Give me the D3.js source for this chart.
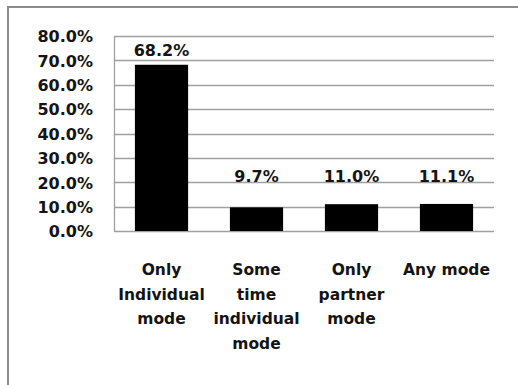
<!DOCTYPE html>
<html>
<head>
<meta charset="utf-8">
<script src="https://cdnjs.cloudflare.com/ajax/libs/d3/7.8.5/d3.min.js"></script>
<style>
  html, body { margin: 0; padding: 0; background: #fff; }
  svg { display: block; }
  text { font-family: "DejaVu Sans", Verdana, sans-serif; font-weight: bold; fill: #141414; }
</style>
</head>
<body>
<svg id="chart" width="518" height="385"></svg>
<script>
// Share of respondents by mode of work
const categories = [
  ["Only", "Individual", "mode"],
  ["Some", "time", "individual", "mode"],
  ["Only", "partner", "mode"],
  ["Any mode"]
];
const values = [68.2, 9.7, 11.0, 11.1];
const yTicks = [0, 10, 20, 30, 40, 50, 60, 70, 80];

const svg = d3.select("#chart");
const W = 518, H = 385;
const plot = { left: 114, right: 494, top: 36, bottom: 231 };

// outer frame
svg.append("rect")
  .attr("x", 8).attr("y", 7)
  .attr("width", W).attr("height", H)
  .attr("fill", "none")
  .attr("stroke", "#8c8c8c")
  .attr("stroke-width", 2);

const x = d3.scaleBand()
  .domain(d3.range(values.length))
  .range([plot.left, plot.right])
  .paddingInner(0.44)
  .paddingOuter(0.22);

const y = d3.scaleLinear().domain([0, 80]).range([plot.bottom, plot.top]);

// horizontal gridlines
svg.append("g")
  .selectAll("line")
  .data(yTicks)
  .join("line")
  .attr("x1", plot.left).attr("x2", plot.right)
  .attr("y1", d => Math.round(y(d)) + 0.5)
  .attr("y2", d => Math.round(y(d)) + 0.5)
  .attr("stroke", "#a0a0a0")
  .attr("stroke-width", 1.3);

// value axis line
svg.append("line")
  .attr("x1", plot.left + 0.5).attr("x2", plot.left + 0.5)
  .attr("y1", plot.top).attr("y2", plot.bottom + 1)
  .attr("stroke", "#a0a0a0")
  .attr("stroke-width", 1.3);

// tick labels
const yAxis = d3.axisLeft(y)
  .tickValues(yTicks)
  .tickFormat(d => d.toFixed(1) + "%")
  .tickSize(0)
  .tickPadding(0);
const ya = svg.append("g")
  .attr("transform", `translate(${plot.left - 21},0)`)
  .call(yAxis);
ya.select(".domain").remove();
ya.selectAll("text")
  .attr("font-size", 16)
  .attr("font-family", null)
  .attr("fill", null)
  .attr("dy", "0.36em");

// bars
svg.append("g")
  .selectAll("rect")
  .data(values)
  .join("rect")
  .attr("x", (d, i) => x(i))
  .attr("width", x.bandwidth())
  .attr("y", d => y(d))
  .attr("height", d => y(0) - y(d))
  .attr("fill", "#000");

// value labels
svg.append("g")
  .selectAll("text")
  .data(values)
  .join("text")
  .attr("x", (d, i) => x(i) + x.bandwidth() / 2)
  .attr("y", d => Math.min(y(d) - 9, y(20)))
  .attr("text-anchor", "middle")
  .attr("font-size", 16)
  .text(d => d.toFixed(1) + "%");

// category labels
const cat = svg.append("g")
  .selectAll("text")
  .data(categories)
  .join("text")
  .attr("text-anchor", "middle")
  .attr("font-size", 15.5)
  .attr("x", (d, i) => x(i) + x.bandwidth() / 2)
  .attr("y", 275);
cat.selectAll("tspan")
  .data(d => d)
  .join("tspan")
  .attr("x", function () { return d3.select(this.parentNode).attr("x"); })
  .attr("dy", (d, i) => i === 0 ? 0 : 24.5)
  .text(d => d);
</script>
</body>
</html>
